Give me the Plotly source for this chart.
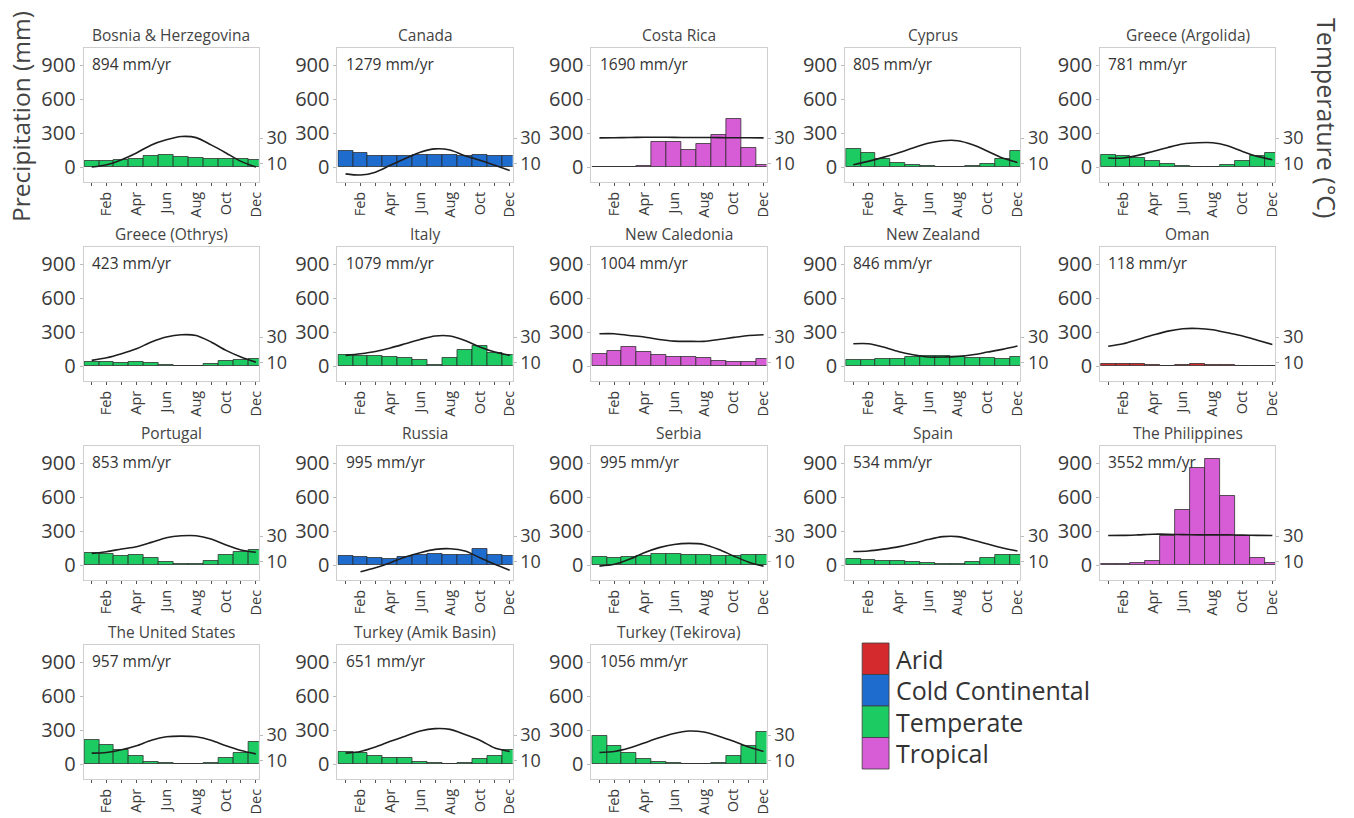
import plotly.graph_objects as go

# ---------------- data ----------------
MONTH_NUM = list(range(1, 13))
TICK_MONTHS = [2, 4, 6, 8, 10, 12]
TICK_LABELS = ["Feb", "Apr", "Jun", "Aug", "Oct", "Dec"]
PRECIP_TICKS = [0, 300, 600, 900]
TEMP_TICKS = [10, 30]

countries = ["Bosnia & Herzegovina", "Canada", "Costa Rica", "Cyprus", "Greece (Argolida)",
             "Greece (Othrys)", "Italy", "New Caledonia", "New Zealand", "Oman",
             "Portugal", "Russia", "Serbia", "Spain", "The Philippines",
             "The United States", "Turkey (Amik Basin)", "Turkey (Tekirova)"]
climate = ["Temperate", "Cold Continental", "Tropical", "Temperate", "Temperate",
           "Temperate", "Temperate", "Tropical", "Temperate", "Arid",
           "Temperate", "Cold Continental", "Temperate", "Temperate", "Tropical",
           "Temperate", "Temperate", "Temperate"]
annual_mm = [894, 1279, 1690, 805, 781, 423, 1079, 1004, 846, 118,
             853, 995, 995, 534, 3552, 957, 651, 1056]

# monthly precipitation (mm)
p_bosnia = [50, 50, 60, 75, 95, 105, 90, 80, 70, 75, 75, 65]
p_canada = [140, 120, 100, 95, 100, 105, 110, 105, 100, 110, 100, 95]
p_costarica = [3, 3, 4, 5, 220, 225, 150, 205, 280, 420, 170, 15]
p_cyprus = [160, 120, 70, 40, 20, 5, 2, 2, 8, 30, 70, 140]
p_argolida = [105, 95, 80, 56, 26, 12, 4, 4, 20, 56, 95, 125]
p_othrys = [40, 35, 30, 32, 28, 10, 3, 3, 15, 48, 50, 58]
p_italy = [95, 90, 85, 80, 70, 50, 10, 75, 145, 175, 115, 95]
p_newcaledonia = [110, 130, 170, 125, 95, 80, 80, 70, 42, 36, 36, 66]
p_newzealand = [55, 50, 60, 65, 80, 85, 85, 80, 70, 70, 65, 80]
p_oman = [18, 18, 14, 8, 4, 12, 14, 10, 8, 4, 4, 4]
p_portugal = [110, 95, 80, 85, 65, 30, 8, 8, 40, 90, 115, 130]
p_russia = [80, 75, 60, 55, 70, 85, 95, 85, 85, 140, 85, 80]
p_serbia = [70, 65, 70, 80, 95, 100, 90, 85, 80, 80, 90, 85]
p_spain = [50, 45, 40, 40, 30, 15, 5, 5, 25, 60, 90, 90]
p_philippines = [9, 9, 20, 38, 256, 485, 853, 932, 609, 256, 59, 20]
p_usa = [216, 171, 120, 72, 21, 6, 2, 2, 6, 51, 96, 192]
p_amik = [102, 96, 72, 57, 51, 21, 6, 2, 12, 42, 72, 120]
p_tekirova = [246, 162, 96, 42, 21, 6, 2, 2, 6, 72, 156, 282]

# monthly temperature (deg C, on the right axis)
t_bosnia = [7.3, 9.1, 13.1, 18.4, 24.7, 28.7, 31.3, 30.4, 24.7, 18.4, 11.8, 7.3]
t_canada = [2.0, 1.1, 3.3, 8.7, 14.0, 18.9, 21.6, 20.7, 16.2, 12.7, 8.7, 4.7]
t_costarica = [30.2, 30.3, 30.5, 30.7, 30.7, 30.6, 30.5, 30.5, 30.4, 30.3, 30.3, 30.2]
t_cyprus = [9.1, 11.8, 14.9, 18.4, 22.3, 26.0, 28.0, 28.0, 24.8, 19.8, 14.4, 10.9]
t_argolida = [14.4, 14.4, 16.5, 19.6, 22.7, 25.4, 26.4, 26.4, 24.0, 19.6, 15.7, 13.1]
t_othrys = [11.8, 13.8, 17.0, 20.9, 26.2, 30.1, 31.9, 31.3, 26.2, 19.6, 14.4, 10.4]
t_italy = [15.7, 17.0, 18.8, 21.5, 24.8, 28.2, 30.9, 30.9, 27.4, 22.3, 18.3, 15.7]
t_newcaledonia = [32.7, 32.7, 31.3, 30.1, 28.2, 26.9, 26.7, 26.7, 28.2, 29.8, 31.3, 31.9]
t_newzealand = [24.8, 24.8, 22.3, 18.8, 16.2, 14.4, 14.4, 14.9, 16.2, 18.3, 20.4, 23.0]
t_oman = [22.9, 24.8, 28.2, 31.6, 34.7, 36.6, 36.8, 35.8, 33.4, 30.9, 27.6, 24.2]
t_portugal = [16.5, 17.8, 19.9, 21.7, 25.1, 28.8, 30.3, 30.3, 27.7, 23.0, 19.1, 17.3]
t_russia = [None, 2.1, 5.2, 9.2, 13.6, 17.0, 19.6, 20.1, 18.3, 13.1, 7.9, 3.2]
t_serbia = [6.5, 7.9, 11.8, 17.0, 21.0, 23.5, 24.3, 23.5, 19.6, 14.4, 9.6, 6.5]
t_spain = [18.0, 18.4, 19.8, 21.6, 24.2, 27.3, 29.6, 29.6, 26.9, 23.8, 20.7, 18.4]
t_philippines = [30.5, 30.6, 31.0, 31.5, 31.5, 31.2, 31.0, 31.0, 31.0, 30.8, 30.6, 30.5]
t_usa = [15.9, 16.4, 18.5, 21.7, 26.0, 28.7, 29.2, 28.7, 26.0, 21.7, 18.0, 15.3]
t_amik = [15.9, 17.2, 20.7, 25.2, 29.2, 33.2, 35.1, 34.5, 30.5, 26.0, 19.9, 17.2]
t_tekirova = [16.4, 17.2, 19.9, 23.9, 27.9, 31.3, 33.2, 32.4, 29.2, 25.2, 20.7, 17.2]

precip = [p_bosnia, p_canada, p_costarica, p_cyprus, p_argolida, p_othrys, p_italy,
          p_newcaledonia, p_newzealand, p_oman, p_portugal, p_russia, p_serbia, p_spain,
          p_philippines, p_usa, p_amik, p_tekirova]
temp = [t_bosnia, t_canada, t_costarica, t_cyprus, t_argolida, t_othrys, t_italy,
        t_newcaledonia, t_newzealand, t_oman, t_portugal, t_russia, t_serbia, t_spain,
        t_philippines, t_usa, t_amik, t_tekirova]

legend_classes = ["Arid", "Cold Continental", "Temperate", "Tropical"]
CLIMATE_COLORS = {"Arid": "#D42A2E", "Cold Continental": "#1F6CCF",
                  "Temperate": "#1DCB63", "Tropical": "#D65DD6"}

# ---------------- layout geometry ----------------
W, H = 1354, 818
COL_LEFT = [84, 339, 594, 849, 1105]
ROW_TOP = [48, 247, 446, 645]
PW, PH = 176, 134
P_RANGE = [-132, 1050]
T_RANGE = [-4.4, 100.7]
X_RANGE = [0.46, 12.2]
FONT = "Open Sans, DejaVu Sans, sans-serif"
TXT = "#3a3a3a"


def px_x(x):
    return x / W


def px_y(y):
    return 1 - y / H


def ax_id(letter, n):
    return letter if n == 1 else f"{letter}{n}"


fig = go.Figure()
layout = dict(
    width=W, height=H, autosize=False,
    margin=dict(l=0, r=0, t=0, b=0),
    paper_bgcolor="white", plot_bgcolor="white",
    showlegend=False, bargap=0,
    font=dict(family=FONT, color=TXT),
)
annotations = []
shapes = []

for i, name in enumerate(countries):
    r, c = divmod(i, 5)
    n = i + 1
    xid = ax_id("x", n)
    yaid = ax_id("y", 2 * i + 1)
    ybid = ax_id("y", 2 * i + 2)
    xa = "xaxis" if n == 1 else f"xaxis{n}"
    ya = "yaxis" if 2 * i + 1 == 1 else f"yaxis{2 * i + 1}"
    yb = f"yaxis{2 * i + 2}"
    xd = [px_x(COL_LEFT[c]), px_x(COL_LEFT[c] + PW)]
    yd = [px_y(ROW_TOP[r] + PH), px_y(ROW_TOP[r])]

    layout[xa] = dict(
        domain=xd, anchor=yaid, range=X_RANGE,
        tickmode="array", tickvals=TICK_MONTHS, ticktext=TICK_LABELS,
        tickangle=-90, tickfont=dict(size=14.5, color=TXT),
        ticks="outside", ticklen=3, tickcolor="#555",
        minor=dict(tickmode="linear", tick0=1, dtick=1, ticks="outside",
                   ticklen=3, tickcolor="#555"),
        showline=True, mirror=True, linecolor="#cfcfcf", linewidth=1,
        showgrid=False, zeroline=False, fixedrange=True,
    )
    layout[ya] = dict(
        domain=yd, anchor=xid, range=P_RANGE,
        tickmode="array", tickvals=PRECIP_TICKS,
        tickfont=dict(size=20, color=TXT),
        ticks="outside", ticklen=3, tickcolor="#bbbbbb",
        showline=True, mirror=True, linecolor="#cfcfcf", linewidth=1,
        showgrid=False, zeroline=False, fixedrange=True,
    )
    layout[yb] = dict(
        overlaying=yaid, anchor=xid, side="right", range=T_RANGE,
        tickmode="array", tickvals=TEMP_TICKS,
        tickfont=dict(size=18, color=TXT),
        ticks="outside", ticklen=3, tickcolor="#bbbbbb",
        showline=False, showgrid=False, zeroline=False, fixedrange=True,
    )

    fig.add_trace(go.Bar(
        x=MONTH_NUM, y=precip[i], xaxis=xid, yaxis=yaid,
        marker=dict(color=CLIMATE_COLORS[climate[i]],
                    line=dict(color="rgba(40,40,40,0.75)", width=1)),
        width=1.0, name=name, hoverinfo="x+y",
    ))
    fig.add_trace(go.Scatter(
        x=MONTH_NUM, y=temp[i], xaxis=xid, yaxis=ybid,
        mode="lines", line=dict(color="#1e1e1e", width=1.6, shape="spline", smoothing=0.8),
        connectgaps=False, name=name + " temp", hoverinfo="x+y",
    ))

    annotations.append(dict(
        text=name, xref="paper", yref="paper",
        x=(xd[0] + xd[1]) / 2, y=yd[1], xanchor="center", yanchor="bottom",
        yshift=0, showarrow=False, font=dict(size=15.5, color="#444", family=FONT),
    ))
    annotations.append(dict(
        text=f"{annual_mm[i]} mm/yr", xref=f"{xid} domain", yref=f"{yaid} domain",
        x=0.035, y=0.975, xanchor="left", yanchor="top", showarrow=False,
        font=dict(size=15.5, color="#333", family=FONT),
    ))

# axis titles
annotations.append(dict(
    text="Precipitation (mm)", xref="paper", yref="paper",
    x=px_x(21), y=px_y(116), xanchor="center", yanchor="middle",
    textangle=-90, showarrow=False, font=dict(size=24.5, color="#444", family=FONT),
))
annotations.append(dict(
    text="Temperature (°C)", xref="paper", yref="paper",
    x=px_x(1333), y=px_y(118), xanchor="center", yanchor="middle",
    textangle=90, showarrow=False, font=dict(size=25, color="#444", family=FONT),
))

# legend (drawn as boxes + labels)
LEG_X0, LEG_X1 = 866, 893
LEG_Y0, LEG_STEP = 643, 31.5
for k, cls in enumerate(legend_classes):
    y0 = LEG_Y0 + k * LEG_STEP
    shapes.append(dict(
        type="rect", xref="paper", yref="paper",
        x0=px_x(LEG_X0), x1=px_x(LEG_X1), y0=px_y(y0 + LEG_STEP), y1=px_y(y0),
        fillcolor=CLIMATE_COLORS[cls], line=dict(color="rgba(60,60,60,0.8)", width=1),
    ))
    annotations.append(dict(
        text=cls, xref="paper", yref="paper",
        x=px_x(898), y=px_y(y0 + LEG_STEP / 2), xanchor="left", yanchor="middle",
        showarrow=False, font=dict(size=25, color="#333", family=FONT),
    ))

layout["annotations"] = annotations
layout["shapes"] = shapes
fig.update_layout(**layout)
fig.write_html("out.html")
